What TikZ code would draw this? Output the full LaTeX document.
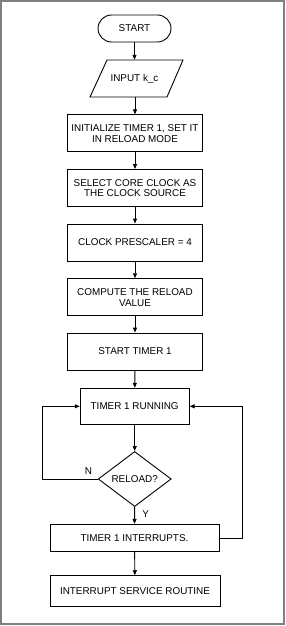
\documentclass[tikz,border=0pt]{standalone}
\usepackage{fontspec}
\setmainfont{Liberation Sans}
\usetikzlibrary{shapes.geometric,arrows.meta}
\tikzset{
  every node/.style={font=\fontsize{9.9}{10.8}\selectfont, align=center, inner sep=0pt},
  procbox/.style={draw, line width=0.9pt, minimum width=135pt, minimum height=37pt},
  termbox/.style={draw, line width=0.9pt, rounded corners=13.5pt, minimum width=73pt, minimum height=27pt},
  decbox/.style={draw, line width=0.9pt, diamond, minimum width=73pt, minimum height=55pt, shape aspect=1.33, inner sep=0pt},
  conn/.style={line width=0.9pt, -{Triangle[length=5pt,width=4pt]}},
  outline/.style={line width=0.9pt},
  lbl/.style={font=\fontsize{9.9}{10}\selectfont}
}
\begin{document}
\begin{tikzpicture}[x=1pt,y=-1pt]
\useasboundingbox (0,0) rectangle (286,626);
\draw[draw=gray, line width=2pt] (1,1) rectangle (284,624);
\node[termbox] (start) at (134.5,28.5) {START};
\node[minimum width=60pt, minimum height=37pt] (input) at (134.5,78.5) {INPUT k\_c};
\draw[outline] (107,60) -- (183,60) -- (167,97) -- (90,97) -- cycle;
\node[procbox] (init) at (135,133.3) {INITIALIZE TIMER 1, SET IT\\IN RELOAD MODE};
\node[procbox] (sel) at (135,188) {SELECT CORE CLOCK AS\\THE CLOCK SOURCE};
\node[procbox] (pre) at (135,242.5) {CLOCK PRESCALER = 4};
\node[procbox] (comp) at (135,297.2) {COMPUTE THE RELOAD\\VALUE};
\node[procbox] (st) at (135,351.5) {START TIMER 1};
\node[procbox, minimum width=109pt, minimum height=36pt] (run) at (134.7,406.3) {TIMER 1 RUNNING};
\node[decbox] (dec) at (134.7,479) {};
\node (dectext) at (dec) {RELOAD?};
\node[procbox, minimum width=169pt, minimum height=27.5pt] (intr) at (134.5,538) {TIMER 1 INTERRUPTS.};
\node[procbox, minimum width=170pt, minimum height=31pt] (isr) at (135,591.2) {INTERRUPT SERVICE ROUTINE};
\coordinate (lc) at (42.7,479);
\coordinate (lt) at (42.7,406.3);
\coordinate (rc) at (242.3,538);
\coordinate (rt) at (242.3,406.3);
\draw[conn] (start) -- (start.south |- input.north);
\draw[conn] (input.south -| init.north) -- (init.north);
\draw[conn] (init) -- (sel);
\draw[conn] (sel) -- (pre);
\draw[conn] (pre) -- (comp);
\draw[conn] (comp) -- (st);
\draw[conn] (st) -- (run);
\draw[conn] (run) -- (dec);
\draw[conn] (dec) -- (intr);
\draw[conn] (intr) -- (isr);
\draw[conn] (dec.west) -- (lc) -- (lt) -- (run.west);
\draw[conn] (intr.east) -- (rc) -- (rt) -- (run.east);
\node[lbl] (nl) at (88.5,471) {N};
\node[lbl] (yl) at (145.7,514.5) {Y};
\end{tikzpicture}
\end{document}
